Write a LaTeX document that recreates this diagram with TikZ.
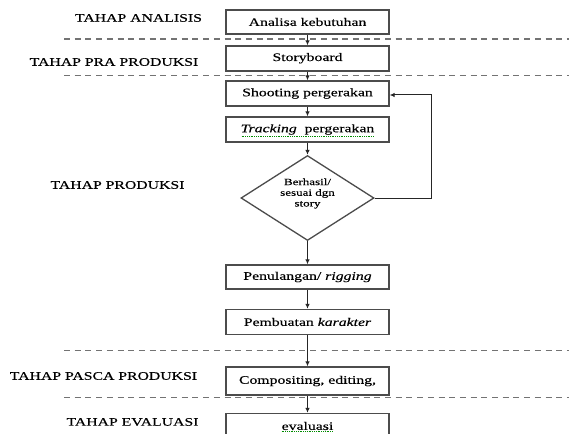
\documentclass[tikz,border=0pt]{standalone}
\usepackage{fontspec}
\setmainfont[FakeStretch=1.37,FakeBold=0.3]{Liberation Serif}
\usetikzlibrary{shapes.geometric,arrows.meta,calc}
\begin{document}
\begin{tikzpicture}[x=1pt,y=-1pt,
  box/.style={draw=black!70, line width=1.3pt, minimum width=163pt, minimum height=25pt, inner sep=0pt, font=\fontsize{11.5}{13}\selectfont},
  lab/.style={font=\fontsize{11.5}{13}\selectfont, inner sep=0pt},
  arr/.style={draw=black!85, line width=1pt, -{Latex[length=5pt,width=4.5pt]}},
  sep/.style={draw=black!55, line width=1.3pt, dash pattern=on 6pt off 4.7pt},
  squig/.style={draw=green!55!black, line width=0.8pt, densely dotted}]
\clip (0,0) rectangle (569,433);
\fill[white] (0,0) rectangle (569,433);

% phase separators
\draw[sep] (64,39) -- (569,39);
\draw[sep] (64,75.5) -- (569,75.5);
\draw[sep] (64,350.7) -- (569,350.7);
\draw[sep] (64,397.3) -- (569,397.3);

% phase labels
\node[lab] (l1) at (138.5,18) {TAHAP ANALISIS};
\node[lab] (l2) at (114,62) {TAHAP PRA PRODUKSI};
\node[lab] (l3) at (117.5,185) {TAHAP PRODUKSI};
\node[lab] (l4) at (103.5,376) {TAHAP PASCA PRODUKSI};
\node[lab] (l5) at (132.5,422) {TAHAP EVALUASI};

% boxes
\node[box, minimum height=24pt] (ana) at (307.5,22) {Analisa kebutuhan};
\node[box] (story) at (307.5,58.5) {\raisebox{3pt}{Storyboard}};
\node[box] (shoot) at (307.5,93.5) {Shooting pergerakan};
\node[box] (track) at (307.5,129.5) {\textit{Tracking}\ \ pergerakan};
\node[draw=black!70, line width=1.3pt, diamond, minimum width=133pt, minimum height=85pt, inner sep=0pt] (dia) at (307.5,198) {};
\node[align=center, font=\fontsize{9.5}{10.7}\selectfont, inner sep=0pt] (diat) at (307.5,193.5) {Berhasil/\\sesuai dgn\\story};
\node[box, minimum height=24pt] (pen) at (307.5,277) {Penulangan/ \textit{rigging}};
\node[box] (pemb) at (307.5,322) {Pembuatan \textit{karakter}};
\node[box, minimum height=28pt] (comp) at (307.5,381) {\raisebox{2pt}{Compositing, editing,}};
\node[box] (eval) at (307.5,426) {evaluasi};

% spell-check squiggles
\draw[squig] ($(track.center)+(-66,7)$) -- ++(133,0);
\draw[squig] ($(eval.center)+(-26,5)$) -- ++(52,0);

% connectors
\draw[arr] (ana) -- (story);
\draw[arr] (story) -- (shoot);
\draw[arr] (shoot) -- (track);
\draw[arr] (track) -- (dia);
\draw[arr] (dia) -- (pen);
\draw[arr] (pen) -- (pemb);
\draw[arr] (pemb) -- (comp);
\draw[arr] (comp) -- (eval);
\draw[arr] (dia.east) -- ++(57,0) |- ([yshift=-1.5pt]shoot.east);
\end{tikzpicture}
\end{document}
